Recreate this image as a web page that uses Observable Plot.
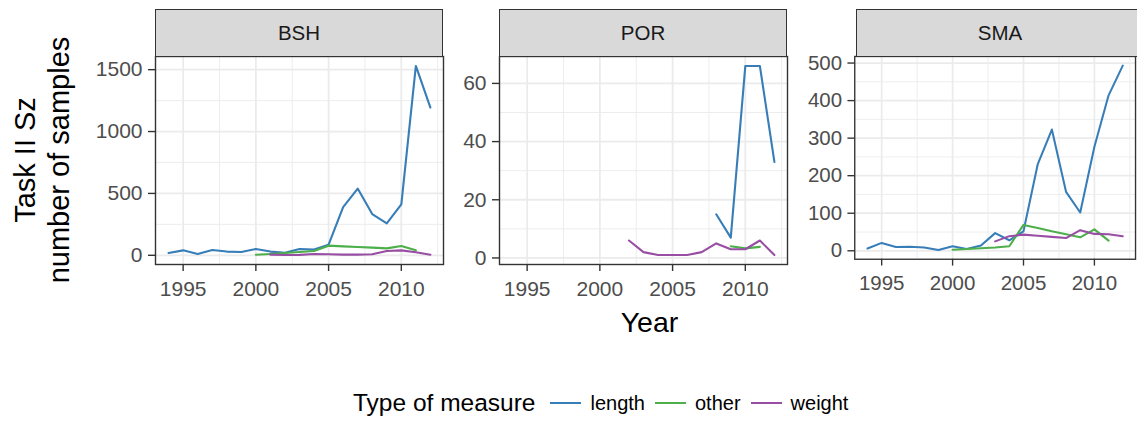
<!DOCTYPE html>
<html>
<head>
<meta charset="utf-8">
<script src="https://cdn.jsdelivr.net/npm/d3@7"></script>
<script src="https://cdn.jsdelivr.net/npm/@observablehq/plot@0.6"></script>
<style>
  html, body { margin: 0; padding: 0; background: #fff; }
  #root { position: relative; width: 1137px; height: 421px; overflow: hidden; font-family: "Liberation Sans", Arial, Helvetica, sans-serif; }
  .strip { position: absolute; box-sizing: border-box; background: #D9D9D9; border: 1.3px solid #333333; color: #1A1A1A; font-size: 20.5px; display: flex; align-items: center; justify-content: center; }
  .panel { position: absolute; }
  .abs { position: absolute; white-space: nowrap; color: #000; }
</style>
</head>
<body>
<div id="root"></div>
<script>
// ---- data ----
const panels = ["BSH", "POR", "SMA"];
const measures = ["length", "other", "weight"];
const colors = ["#377EB8", "#4DAF4A", "#984EA3"];
const xTicks = [1995, 2000, 2005, 2010];

// BSH
const bshLengthYears = [1994,1995,1996,1997,1998,1999,2000,2001,2002,2003,2004,2005,2006,2007,2008,2009,2010,2011,2012];
const bshLength      = [19,40,11,43,30,27,51,30,21,51,46,86,389,539,333,258,411,1530,1194];
const bshOtherYears  = [2000,2001,2002,2003,2004,2005,2006,2007,2008,2009,2010,2011];
const bshOther       = [5,11,19,27,35,78,72,67,62,56,75,40];
const bshWeightYears = [2001,2002,2003,2004,2005,2006,2007,2008,2009,2010,2011,2012];
const bshWeight      = [5,2,3,11,8,5,5,8,35,40,24,5];
const bshYTicks = [0, 500, 1000, 1500];

// POR
const porLengthYears = [2008,2009,2010,2011,2012];
const porLength      = [15,7,66,66,33];
const porOtherYears  = [2009,2010,2011];
const porOther       = [4,3.3,3.8];
const porWeightYears = [2002,2003,2004,2005,2006,2007,2008,2009,2010,2011,2012];
const porWeight      = [6,2,1,1,1,2,5,3,3,6,1];
const porYTicks = [0, 20, 40, 60];

// SMA
const smaLengthYears = [1994,1995,1996,1997,1998,1999,2000,2001,2002,2003,2004,2005,2006,2007,2008,2009,2010,2011,2012];
const smaLength      = [6,21,10,11,9,2,12,5,14,47,28,52,230,323,157,102,277,414,493];
const smaOtherYears  = [2000,2001,2002,2003,2004,2005,2006,2007,2008,2009,2010,2011];
const smaOther       = [3,5,7,9,12,69,61,52,44,36,57,27];
const smaWeightYears = [2003,2004,2005,2006,2007,2008,2009,2010,2011,2012];
const smaWeight      = [25,39,43,40,37,34,55,45,44,39];
const smaYTicks = [0, 100, 200, 300, 400, 500];

function rows(years, values, measure) {
  return years.map((y, i) => ({year: y, value: values[i], measure}));
}
const panelData = {
  BSH: [...rows(bshLengthYears, bshLength, "length"), ...rows(bshOtherYears, bshOther, "other"), ...rows(bshWeightYears, bshWeight, "weight")],
  POR: [...rows(porLengthYears, porLength, "length"), ...rows(porOtherYears, porOther, "other"), ...rows(porWeightYears, porWeight, "weight")],
  SMA: [...rows(smaLengthYears, smaLength, "length"), ...rows(smaOtherYears, smaOther, "other"), ...rows(smaWeightYears, smaWeight, "weight")]
};
const panelYTicks = {BSH: bshYTicks, POR: porYTicks, SMA: smaYTicks};

// ---- layout ----
const panelLeft = {BSH: 155, POR: 499, SMA: 856};
const panelW = 288, panelTop = 56, panelH = 208, stripTop = 9;
const ML = 70, MT = 1, MB = 50;
const FONT = '"Liberation Sans", Arial, Helvetica, sans-serif';

const allYears = Object.values(panelData).flat().map(d => d.year);
const xlo = d3.min(allYears), xhi = d3.max(allYears), xpad = (xhi - xlo) * 0.05;
const xDomain = [xlo - xpad, xhi + xpad];
const xStep = xTicks[1] - xTicks[0];
const xMinor = d3.range(xTicks[0] - xStep / 2, xDomain[1], xStep).filter(v => v >= xDomain[0] && v <= xDomain[1]);

const root = document.getElementById("root");

for (const p of panels) {
  const data = panelData[p];
  const yt = panelYTicks[p];
  const vals = data.map(d => d.value);
  const lo = d3.min(vals), hi = d3.max(vals), pad = (hi - lo) * 0.05;
  const yDomain = [lo - pad, hi + pad];
  const yStep = yt[1] - yt[0];
  const yMinor = d3.range(yt[0] - yStep / 2, yDomain[1], yStep).filter(v => v >= yDomain[0] && v <= yDomain[1]);

  const chart = Plot.plot({
    width: ML + panelW + 2,
    height: MT + panelH + MB,
    marginLeft: ML, marginRight: 2, marginTop: MT, marginBottom: MB,
    x: {domain: xDomain},
    y: {domain: yDomain},
    color: {domain: measures, range: colors},
    style: {fontFamily: FONT, background: "transparent", overflow: "visible"},
    marks: [
      Plot.ruleX(xMinor, {stroke: "#EBEBEB", strokeWidth: 0.9}),
      Plot.ruleY(yMinor, {stroke: "#EBEBEB", strokeWidth: 0.9}),
      Plot.ruleX(xTicks, {stroke: "#EBEBEB", strokeWidth: 1.8}),
      Plot.ruleY(yt, {stroke: "#EBEBEB", strokeWidth: 1.8}),
      Plot.line(data, {x: "year", y: "value", z: "measure", stroke: "measure", strokeWidth: 2.1}),
      Plot.frame({stroke: "#333333", strokeWidth: 1.4}),
      Plot.axisX(xTicks, {tickSize: 7, tickPadding: 10, fontSize: 21, stroke: "#333333", strokeWidth: 1.4, fill: "#4D4D4D", tickFormat: d => String(d), label: null}),
      Plot.axisY(yt, {tickSize: 7, tickPadding: 6, fontSize: 21, stroke: "#333333", strokeWidth: 1.4, fill: "#4D4D4D", tickFormat: d => String(d), label: null})
    ]
  });
  const wrap = document.createElement("div");
  wrap.className = "panel";
  wrap.style.left = (panelLeft[p] - ML) + "px";
  wrap.style.top = (panelTop - MT) + "px";
  wrap.appendChild(chart);
  root.appendChild(wrap);

  const strip = document.createElement("div");
  strip.className = "strip";
  strip.style.left = panelLeft[p] + "px";
  strip.style.top = stripTop + "px";
  strip.style.width = panelW + "px";
  strip.style.height = (panelTop - stripTop + 1) + "px";
  strip.textContent = p;
  root.appendChild(strip);
}

// y axis title
const yt = document.createElement("div");
yt.className = "abs";
yt.style.cssText += "left:42px;top:160px;transform:translate(-50%,-50%) rotate(-90deg);text-align:center;font-size:29px;line-height:34px;";
yt.innerHTML = "Task II Sz<br>number of samples";
root.appendChild(yt);

// x axis title
const xt = document.createElement("div");
xt.className = "abs";
xt.style.cssText += "left:649.5px;top:306px;transform:translateX(-50%);font-size:28.5px;line-height:33px;";
xt.textContent = "Year";
root.appendChild(xt);

// legend
const lg = document.createElement("div");
lg.className = "abs";
lg.style.cssText += "left:353px;top:388px;height:30px;display:flex;align-items:center;";
const title = document.createElement("span");
title.textContent = "Type of measure";
title.style.cssText = "font-size:24.5px;margin-right:15px;";
lg.appendChild(title);
measures.forEach((m, i) => {
  const key = document.createElement("span");
  key.style.cssText = `display:inline-block;width:31px;height:2.6px;background:${colors[i]};margin-right:9px;`;
  const lab = document.createElement("span");
  lab.textContent = m;
  lab.style.cssText = "font-size:20px;margin-right:10px;";
  lg.appendChild(key);
  lg.appendChild(lab);
});
root.appendChild(lg);
</script>
</body>
</html>
